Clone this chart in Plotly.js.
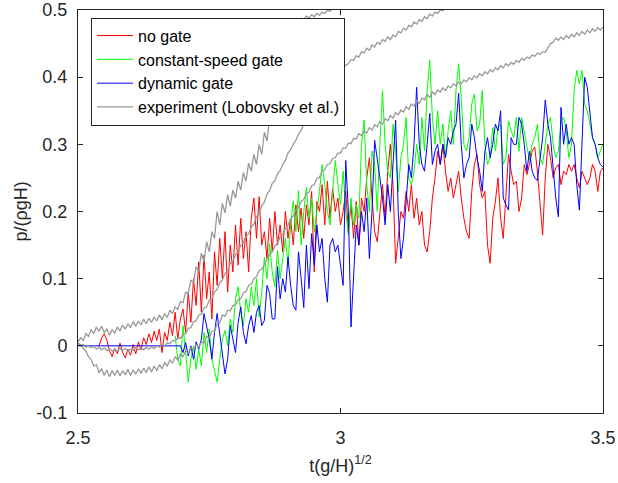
<!DOCTYPE html>
<html><head><meta charset="utf-8">
<script src="https://cdn.plot.ly/plotly-3.0.1.min.js"></script>
<style>html,body{margin:0;padding:0;background:#fff}#chart{width:618px;height:483px}</style>
</head><body><div id="chart"></div>
<script>
// sampling step of all series (dimensionless time)
const DT = 0.005;

const seriesNames = ['no gate', 'constant-speed gate', 'dynamic gate', 'experiment (Lobovsky et al.)'];
const xTickVals = [2.5, 3, 3.5];
const xTickText = ['2.5', '3', '3.5'];
const yTickVals = [-0.1, 0, 0.1, 0.2, 0.3, 0.4, 0.5];
const yTickText = ['-0.1', '0', '0.1', '0.2', '0.3', '0.4', '0.5'];

// no gate (red), starts at t = 2.54
const noGateT0 = 2.54;
const noGateP = [0.0,0.012,0.018,0.008,-0.008,-0.016,-0.004,-0.012,0.004,-0.01,-0.018,-0.005,-0.014,0.002,-0.012,0.006,-0.006,0.012,0.002,0.018,
0.005,0.022,0.008,0.025,-0.01,0.02,0.008,0.035,0.015,0.05,0.01,0.04,0.055,0.02,0.08,0.035,0.1,0.06,0.125,0.05,
0.135,0.07,0.11,0.04,0.14,0.09,0.16,0.1,0.17,0.08,0.15,0.11,0.18,0.12,0.19,0.13,0.17,0.11,0.19,0.22,
0.16,0.222,0.15,0.17,0.13,0.19,0.14,0.2,0.15,0.18,0.14,0.2,0.16,0.19,0.15,0.21,0.17,0.205,0.16,0.21,
0.18,0.23,0.11,0.215,0.2,0.24,0.18,0.245,0.19,0.235,0.2,0.22,0.18,0.2,0.23,0.17,0.21,0.16,0.215,0.15,
0.22,0.2,0.25,0.28,0.22,0.17,0.155,0.2,0.24,0.19,0.26,0.3,0.24,0.123,0.165,0.2,0.19,0.23,0.2,0.24,
0.19,0.22,0.18,0.2,0.15,0.14,0.17,0.22,0.25,0.29,0.27,0.3,0.26,0.23,0.25,0.22,0.24,0.26,0.22,0.19,
0.17,0.16,0.23,0.27,0.285,0.24,0.22,0.23,0.15,0.123,0.19,0.215,0.25,0.19,0.16,0.22,0.285,0.26,0.24,0.245,
0.2,0.22,0.27,0.255,0.27,0.29,0.296,0.26,0.21,0.165,0.25,0.3,0.28,0.25,0.265,0.27,0.24,0.26,0.255,0.27,
0.26,0.27,0.25,0.235,0.26,0.25,0.24,0.25,0.27,0.26,0.23,0.26,0.265];

// constant-speed gate (green), starts at t = 2.685
const constGateT0 = 2.685;
const constGateP = [0.015,-0.02,-0.03,0.03,-0.01,-0.054,-0.02,0.0,-0.035,-0.005,-0.03,0.02,-0.01,0.025,-0.02,-0.035,-0.054,-0.02,0.01,0.023,
0.0,0.04,0.02,0.07,0.088,0.05,0.03,0.07,0.05,0.088,0.06,0.1,0.043,0.08,0.132,0.1,0.152,0.11,0.088,0.142,
0.1,0.13,0.16,0.12,0.18,0.216,0.17,0.231,0.15,0.2,0.236,0.19,0.22,0.17,0.2,0.23,0.27,0.24,0.2,0.18,
0.23,0.276,0.24,0.21,0.26,0.2,0.165,0.22,0.18,0.21,0.19,0.3,0.336,0.24,0.2,0.29,0.27,0.2,0.3,0.38,
0.3,0.26,0.25,0.33,0.29,0.23,0.28,0.3,0.34,0.25,0.24,0.26,0.3,0.27,0.34,0.29,0.38,0.425,0.34,0.3,
0.35,0.3,0.33,0.28,0.32,0.35,0.3,0.38,0.42,0.37,0.3,0.29,0.31,0.36,0.375,0.32,0.33,0.38,0.3,0.27,
0.28,0.325,0.29,0.325,0.33,0.27,0.28,0.335,0.32,0.31,0.34,0.29,0.34,0.32,0.3,0.276,0.3,0.31,0.33,0.28,
0.27,0.3,0.33,0.34,0.3,0.28,0.29,0.335,0.34,0.32,0.28,0.3,0.38,0.41,0.39,0.41,0.36,0.35,0.33,0.31,
0.3,0.28,0.29,0.3];

// dynamic gate (blue), starts at t = 2.5
const dynGateT0 = 2.5;
const dynGateP = [0,0,0,0,0,0,0,0,0,0,0,0,0,0,0,0,0,0,0,0,
0,0,0,0,0,0,0,0,0,0,0,0,0,0,0,0,0,0,0,0,
-0.01,0.005,-0.015,0.0,-0.02,0.006,-0.005,0.01,0.048,0.03,0.01,-0.02,0.02,0.048,0.02,-0.01,-0.042,-0.02,0.03,0.01,
-0.01,0.035,0.058,0.02,0.003,0.03,0.045,0.02,0.05,0.06,0.03,0.038,0.09,0.078,0.04,0.04,0.118,0.07,0.1,0.08,
0.132,0.09,0.06,0.053,0.14,0.1,0.057,0.15,0.085,0.167,0.12,0.18,0.14,0.16,0.1,0.065,0.15,0.16,0.14,0.15,
0.12,0.09,0.276,0.2,0.028,0.1,0.18,0.15,0.2,0.17,0.22,0.13,0.2,0.306,0.28,0.25,0.22,0.18,0.24,0.2,
0.27,0.336,0.2,0.13,0.16,0.22,0.27,0.25,0.3,0.385,0.3,0.27,0.26,0.3,0.346,0.27,0.29,0.3,0.27,0.3,
0.28,0.31,0.3,0.32,0.33,0.376,0.3,0.25,0.27,0.28,0.33,0.31,0.28,0.26,0.23,0.29,0.31,0.28,0.3,0.33,
0.32,0.35,0.22,0.21,0.202,0.31,0.3,0.3,0.34,0.33,0.3,0.26,0.29,0.26,0.25,0.246,0.28,0.31,0.366,0.33,
0.31,0.26,0.22,0.192,0.355,0.3,0.33,0.3,0.31,0.3,0.24,0.202,0.3,0.4,0.385,0.35,0.31,0.3,0.28,0.27,
0.266];

// experiment (grey), three sensor records, all start at t = 2.5
const expT0 = 2.5;
const expUpperP = [0.006,0.012,0.008,0.018,0.014,0.024,0.018,0.028,0.022,0.029,0.02,0.025,0.016,0.024,0.019,0.028,0.022,0.031,0.025,0.033,
0.027,0.036,0.029,0.037,0.031,0.04,0.033,0.041,0.035,0.043,0.037,0.046,0.039,0.048,0.042,0.053,0.048,0.058,0.054,0.066,
0.064,0.08,0.078,0.098,0.094,0.118,0.11,0.138,0.125,0.155,0.14,0.17,0.16,0.2,0.18,0.212,0.198,0.225,0.208,0.232,
0.22,0.245,0.232,0.258,0.245,0.272,0.26,0.285,0.27,0.3,0.285,0.318,0.305,0.34,0.33,0.36,0.37,0.39,0.4,0.42,
0.43,0.445,0.455,0.47,0.478,0.488,0.486,0.491,0.488,0.493,0.49,0.495,0.492,0.497,0.495,0.5,0.498,0.503,0.501,0.506,
0.504,0.51];
const expMiddleP = [0.003,0.0,0.002,-0.002,0.0,-0.003,-0.001,-0.005,-0.002,-0.006,-0.003,-0.007,-0.004,-0.008,-0.005,-0.008,-0.004,-0.007,-0.004,-0.008,
-0.005,-0.007,-0.003,-0.006,-0.003,-0.006,-0.002,-0.005,-0.001,-0.004,0.0,-0.002,0.002,0.0,0.005,0.003,0.008,0.007,0.012,0.011,
0.017,0.018,0.026,0.027,0.036,0.037,0.046,0.047,0.056,0.058,0.068,0.07,0.08,0.084,0.094,0.098,0.108,0.112,0.123,0.126,
0.136,0.139,0.15,0.153,0.163,0.167,0.177,0.181,0.192,0.197,0.208,0.214,0.226,0.231,0.242,0.246,0.256,0.261,0.27,0.276,
0.287,0.292,0.3,0.306,0.315,0.321,0.33,0.336,0.345,0.349,0.357,0.36,0.368,0.372,0.379,0.383,0.39,0.393,0.4,0.404,
0.41,0.413,0.418,0.42,0.426,0.425,0.432,0.43,0.438,0.436,0.443,0.44,0.448,0.445,0.452,0.449,0.456,0.453,0.46,0.456,
0.463,0.46,0.468,0.466,0.473,0.47,0.477,0.475,0.482,0.479,0.486,0.483,0.49,0.487,0.494,0.491,0.497,0.495,0.5,0.499,
0.505];
const expLowerP = [0.004,0.002,-0.004,-0.008,-0.016,-0.02,-0.03,-0.028,-0.04,-0.034,-0.044,-0.036,-0.046,-0.037,-0.044,-0.036,-0.045,-0.037,-0.043,-0.035,
-0.044,-0.036,-0.042,-0.034,-0.041,-0.033,-0.04,-0.031,-0.039,-0.03,-0.037,-0.028,-0.034,-0.025,-0.03,-0.021,-0.026,-0.016,-0.021,-0.012,
-0.016,-0.007,-0.011,-0.003,-0.006,0.002,-0.002,0.006,0.004,0.014,0.012,0.022,0.022,0.033,0.034,0.046,0.044,0.053,0.052,0.06,
0.061,0.069,0.07,0.079,0.081,0.09,0.092,0.1,0.103,0.112,0.114,0.122,0.128,0.136,0.14,0.148,0.153,0.162,0.166,0.175,
0.18,0.189,0.193,0.202,0.206,0.215,0.218,0.227,0.229,0.238,0.24,0.249,0.251,0.26,0.262,0.27,0.271,0.279,0.28,0.287,
0.287,0.295,0.294,0.302,0.301,0.309,0.308,0.316,0.313,0.32,0.317,0.325,0.321,0.329,0.326,0.334,0.33,0.338,0.335,0.343,
0.339,0.347,0.344,0.351,0.348,0.356,0.352,0.36,0.357,0.365,0.361,0.369,0.366,0.374,0.37,0.378,0.374,0.381,0.378,0.384,
0.38,0.387,0.384,0.39,0.387,0.393,0.39,0.396,0.393,0.399,0.396,0.402,0.399,0.405,0.402,0.408,0.405,0.411,0.408,0.414,
0.411,0.417,0.414,0.42,0.417,0.422,0.419,0.425,0.422,0.428,0.425,0.43,0.428,0.433,0.431,0.436,0.434,0.438,0.437,0.443,
0.45,0.452,0.458,0.455,0.46,0.456,0.462,0.458,0.464,0.46,0.466,0.462,0.468,0.464,0.47,0.466,0.472,0.468,0.474,0.47,
0.475];

function times(t0, n) { return Array.from({length: n}, (_, i) => +(t0 + i * DT).toFixed(4)); }

const FONT = 'Liberation Sans, Arial, Helvetica, sans-serif';
const INK = '#262626';
const GREY = '#999999';

function line(name, t0, ys, color, width, opts) {
  return Object.assign({
    type: 'scatter', mode: 'lines', name: name,
    x: times(t0, ys.length), y: ys,
    line: {color: color, width: width},
    hoverinfo: 'skip'
  }, opts || {});
}

const traces = [
  line(seriesNames[0], noGateT0, noGateP, '#ff0000', 1),
  line(seriesNames[1], constGateT0, constGateP, '#00ff00', 1),
  line(seriesNames[2], dynGateT0, dynGateP, '#0000ff', 1),
  line(seriesNames[3], expT0, expUpperP, GREY, 1.3, {legendgroup: 'exp'}),
  line(seriesNames[3], expT0, expMiddleP, GREY, 1.3, {legendgroup: 'exp', showlegend: false}),
  line(seriesNames[3], expT0, expLowerP, GREY, 1.3, {legendgroup: 'exp', showlegend: false})
];

const axisCommon = {
  showgrid: false, zeroline: false, showline: true, linecolor: INK, linewidth: 1,
  mirror: 'ticks', ticks: 'inside', ticklen: 5, tickwidth: 1, tickcolor: INK,
  tickfont: {family: FONT, size: 18, color: INK}
};

const layout = {
  width: 618, height: 483,
  margin: {l: 78, r: 15, t: 10, b: 70},
  paper_bgcolor: '#ffffff', plot_bgcolor: '#ffffff',
  font: {family: FONT, color: INK},
  showlegend: true,
  legend: {
    x: 0.0248, y: 0.981, xanchor: 'left', yanchor: 'top',
    bgcolor: '#ffffff', bordercolor: INK, borderwidth: 1,
    font: {family: FONT, size: 16, color: '#000000'},
    itemwidth: 36,
    tracegroupgap: 0
  },
  xaxis: Object.assign({}, axisCommon, {
    range: [2.5, 3.5], tickmode: 'array', tickvals: xTickVals, ticktext: xTickText,
    ticklabelstandoff: 8, automargin: false,
    title: {text: 't(g/H)<sup>1/2</sup>', font: {family: FONT, size: 18, color: INK}, standoff: 12}
  }),
  yaxis: Object.assign({}, axisCommon, {
    range: [-0.1, 0.5], tickmode: 'array', tickvals: yTickVals, ticktext: yTickText,
    ticklabelstandoff: 6, automargin: 'left',
    title: {text: 'p/(ρgH)', font: {family: FONT, size: 18, color: INK}, standoff: 4}
  })
};

Plotly.newPlot('chart', traces, layout, {displayModeBar: false, staticPlot: true});
</script>
</body></html>
